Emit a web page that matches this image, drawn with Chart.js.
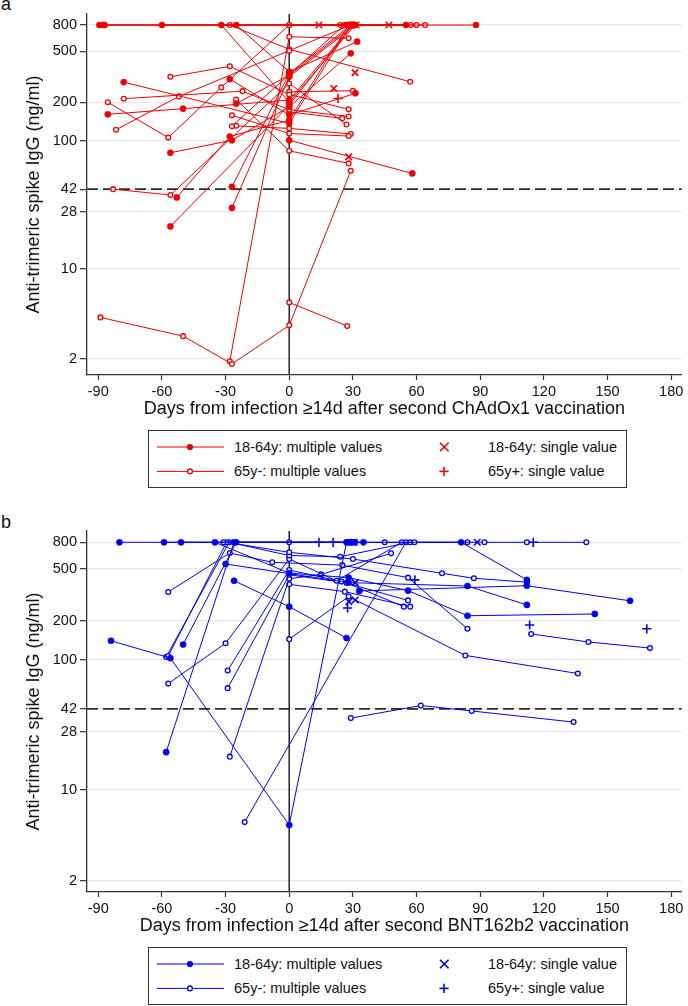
<!DOCTYPE html>
<html><head><meta charset="utf-8">
<script src="https://cdn.jsdelivr.net/npm/chart.js@4"></script>
<style>
body{margin:0;width:688px;height:1006px;background:#fff;position:relative;overflow:hidden;font-family:"Liberation Sans",Arial,sans-serif;color:#111}
.panel{position:absolute;left:0;width:688px;height:420px}
.lbl{position:absolute;left:1px;font-size:18px;line-height:18px}
.legend{position:absolute;left:148px;width:477px;height:56px;border:1px solid #333;font-size:14.5px;background:#fff}
.item{position:absolute;white-space:nowrap;line-height:18px}
.sym{position:absolute}
</style>
</head><body>
<div class="lbl" style="top:-5px">a</div>
<div class="panel" style="top:0"><canvas id="ca" width="688" height="420"></canvas></div>
<div class="legend" id="la" style="top:430px"></div>
<div class="lbl" style="top:513px">b</div>
<div class="panel" style="top:517px"><canvas id="cb" width="688" height="420"></canvas></div>
<div class="legend" id="lb" style="top:947px"></div>
<script>
// ---------- data (days, ng/ml) ----------
const xTicks = [-90,-60,-30,0,30,60,90,120,150,180];
const yTicks = [2,10,28,42,100,200,500,800];
const threshold = 42;

// Panel a: ChAdOx1
const aYoung = [
 [[-89.5,800],[29,800],[88,800]],
 [[-88,800],[30,800],[55,800]],
 [[-87,800],[28,800]],
 [[-60,800],[27,800]],
 [[-32,800],[0,200],[31,800]],
 [[-25,800],[0,346],[32,593]],
 [[-78,287],[0,137],[29,800]],
 [[-85.5,161],[-50,178],[0,208],[30,800]],
 [[-56,80.7],[-27,101],[0,184],[29,481]],
 [[-53,36.2],[-28,108],[0,145],[28,800]],
 [[-56,21.5],[0,190],[30,800]],
 [[-27,30],[0,316],[31,800]],
 [[-27,43.8],[0,335],[29,800]],
 [[-28,303],[0,159],[31.2,235]],
 [[-25,195],[0,325],[30,800]],
 [[0,101],[58,55.7]]
];
const aOld = [
 [[-85.5,200],[-57,106],[-32,261],[0,800],[28,800],[60,800]],
 [[-81.6,122],[-52,222],[0,505],[29,800]],
 [[-78,213],[-22,244],[0,175],[28,155]],
 [[-56,316],[-28,381],[0,230],[28,176]],
 [[-83,42],[-56,37.8],[0,280],[27,134]],
 [[-89,4.2],[-50,3.0],[-27,1.82],[0,3.64],[29,58.5]],
 [[-28,1.91],[0,648],[28,630]],
 [[-28,800],[0,517],[57,289]],
 [[-27,158],[0,114],[28,109]],
 [[-27,130],[26,800],[57.3,800]],
 [[-25,131],[0,125],[29,113]],
 [[-25,210],[0,83.6],[28,66.7]],
 [[0,5.5],[27.3,3.6]],
 [[0,241],[30,246]],
 [[0,168],[25,150]],
 [[0,800],[24,800],[64,800]]
];
const aSingleYoung = [[14,800],[47,800],[21,256],[31,340],[28,75],[31.5,800]];
const aSingleOld = [[23,214]];

// Panel b: BNT162b2
const bYoung = [
 [[-80,800],[28,800],[81,800],[112,411]],
 [[-59,800],[30,800]],
 [[-51,800],[31,800]],
 [[-35,800],[0,464],[28,428],[56,340],[84,218],[144,225]],
 [[-58,19.5],[-26,800],[29,800]],
 [[-50,131],[-25,800],[35,800]],
 [[-84,140],[-56,103],[0,5.36],[27,800]],
 [[-30,545],[28,392],[84,369],[112,264]],
 [[-26,405],[0,256],[27,147]],
 [[33,338],[112,371],[160.6,284]]
];
const bOld = [
 [[-31,800],[0,800],[27,800],[45,800],[59,800],[92,800],[112,800],[140,800]],
 [[-57,107],[-29.5,800],[0,670],[30,595],[72,462],[87,423],[112,395]],
 [[-58,105],[-28.3,800],[0,633],[24,620],[57,800],[84,800]],
 [[-57,332],[-28,662],[-8,561],[25,534],[56,428],[84,173]],
 [[-57,65.6],[-30,134],[0,596],[22.3,405],[53,800]],
 [[-29,82.6],[0,490],[24.6,399],[56,286]],
 [[-29,60.5],[0,450],[27,390],[54,256]],
 [[-28,18],[0,420],[15,453],[48,658]],
 [[-21,5.65],[55,800]],
 [[0,380],[26.2,334],[57,256]],
 [[0,144],[28,306],[83,108],[136,78.4]],
 [[29,35.6],[62,44.5],[86,40.4],[134,33.2]],
 [[114,158],[141,137],[170,123]]
];
const bSingleYoung = [[88.6,800],[31.1,392],[28.1,280],[31.1,288],[30.5,800]];
const bSingleOld = [[14,800],[20.7,800],[115,800],[59.2,411],[27.5,250],[113.3,185],[168.5,173]];

// ---------- drawing ----------
const FONT = '"Liberation Sans", Arial, sans-serif';
const X_MIN = -95.3, X_MAX = 185;
const toPts = arr => arr.map(p => ({x:p[0], y:p[1]}));

function makePanel(id, young, old, singY, singO, color, yMin, yMax, xTitle){
  const ds = [];
  ds.push({data:[{x:X_MIN,y:threshold},{x:X_MAX,y:threshold}], showLine:true, borderColor:'#2a2a2a',
    borderWidth:1.7, borderDash:[11,5], pointRadius:0, order:20});
  ds.push({data:[{x:0,y:yMin},{x:0,y:yMax}], showLine:true, borderColor:'#222', borderWidth:1.5, pointRadius:0, order:21});
  old.forEach(t => ds.push({data:toPts(t), showLine:true, borderColor:color, borderWidth:1,
    pointStyle:'circle', pointRadius:2.4, pointBackgroundColor:'#fff', pointBorderColor:color, pointBorderWidth:1.3, order:2}));
  young.forEach(t => ds.push({data:toPts(t), showLine:true, borderColor:color, borderWidth:1,
    pointStyle:'circle', pointRadius:3.1, pointBackgroundColor:color, pointBorderColor:color, pointBorderWidth:0.5, order:1}));
  ds.push({data:toPts(singY), showLine:false, pointStyle:'crossRot', pointRadius:4.6, borderColor:color,
    pointBorderColor:color, pointBorderWidth:1.6, order:0});
  ds.push({data:toPts(singO), showLine:false, pointStyle:'cross', pointRadius:4.6, borderColor:color,
    pointBorderColor:color, pointBorderWidth:1.6, order:0});

  new Chart(document.getElementById(id), {
    type:'scatter',
    data:{datasets:ds},
    options:{
      responsive:false, animation:false, events:[],
      layout:{padding:{top:14,right:2,left:0,bottom:0}},
      plugins:{legend:{display:false}, tooltip:{enabled:false}},
      scales:{
        x:{type:'linear', min:X_MIN, max:X_MAX,
          afterBuildTicks:s=>{s.ticks = xTicks.map(v=>({value:v}));},
          afterFit:s=>{s.height = 45;},
          ticks:{font:{family:FONT,size:14.5}, color:'#111', padding:3, maxRotation:0, autoSkip:false, callback:v=>String(v)},
          grid:{drawOnChartArea:false, drawTicks:true, tickLength:5, tickColor:'#333', tickWidth:1.2},
          border:{display:true, color:'#333', width:1.3},
          title:{display:true, text:xTitle, font:{family:FONT,size:18}, color:'#111', padding:{top:0,bottom:0}}
        },
        y:{type:'logarithmic', min:yMin, max:yMax,
          afterBuildTicks:s=>{s.ticks = yTicks.map(v=>({value:v}));},
          afterFit:s=>{s.width = 87;},
          ticks:{font:{family:FONT,size:14.5}, color:'#111', padding:3, autoSkip:false, callback:v=>String(v)},
          grid:{color:'#e8e8e8', lineWidth:1.3, drawTicks:true, tickLength:7, tickColor:'#333', tickWidth:1.2},
          border:{display:true, color:'#333', width:1.3},
          title:{display:true, text:'Anti-trimeric spike IgG (ng/ml)', font:{family:FONT,size:18}, color:'#111', padding:{top:23,bottom:0}}
        }
      }
    }
  });
}

function makeLegend(id, color){
  const el = document.getElementById(id);
  const r1 = 16, r2 = 40.4;
  el.innerHTML =
   `<svg class="sym" style="left:0;top:0" width="477" height="56">
      <line x1="8" y1="${r1}" x2="75" y2="${r1}" stroke="${color}" stroke-width="1"/>
      <circle cx="41" cy="${r1}" r="3.1" fill="${color}"/>
      <line x1="8" y1="${r2}" x2="75" y2="${r2}" stroke="${color}" stroke-width="1"/>
      <circle cx="41" cy="${r2}" r="2.4" fill="#fff" stroke="${color}" stroke-width="1.3"/>
      <line x1="291" y1="${r1-4.3}" x2="299.6" y2="${r1+4.3}" stroke="${color}" stroke-width="1.6"/>
      <line x1="291" y1="${r1+4.3}" x2="299.6" y2="${r1-4.3}" stroke="${color}" stroke-width="1.6"/>
      <line x1="290.4" y1="${r2}" x2="299.6" y2="${r2}" stroke="${color}" stroke-width="1.6"/>
      <line x1="295" y1="${r2-4.6}" x2="295" y2="${r2+4.6}" stroke="${color}" stroke-width="1.6"/>
    </svg>
    <div class="item" style="left:85px;top:${r1-9}px">18-64y: multiple values</div>
    <div class="item" style="left:85px;top:${r2-9}px">65y-: multiple values</div>
    <div class="item" style="left:339px;top:${r1-9}px">18-64y: single value</div>
    <div class="item" style="left:339px;top:${r2-9}px">65y+: single value</div>`;
}

const RED = 'rgb(238,0,0)', BLUE = 'rgb(0,0,235)';
makePanel('ca', aYoung, aOld, aSingleYoung, aSingleOld, RED, 1.493, 975,
  'Days from infection \u226514d after second ChAdOx1 vaccination');
makePanel('cb', bYoung, bOld, bSingleYoung, bSingleOld, BLUE, 1.64, 977,
  'Days from infection \u226514d after second BNT162b2 vaccination');
makeLegend('la', RED);
makeLegend('lb', BLUE);
</script>
</body></html>
